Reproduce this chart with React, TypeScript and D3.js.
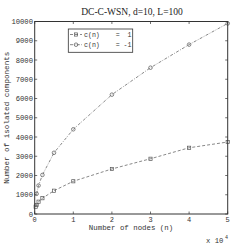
import React from "react";
import * as d3 from "d3";

const nodesLow = [0.025, 0.05, 0.1, 0.2, 0.5, 1, 2, 3, 4, 5];
const compLow = [380, 470, 640, 820, 1210, 1700, 2340, 2870, 3440, 3740];
const nodesHigh = [0.05, 0.1, 0.2, 0.5, 1, 2, 3, 4, 5];
const compHigh = [1050, 1480, 2030, 3180, 4400, 6200, 7600, 8800, 9900];
const xTicks = [0, 1, 2, 3, 4, 5];
const yTicks = [0, 1000, 2000, 3000, 4000, 5000, 6000, 7000, 8000, 9000, 10000];
const legendLabels = ["c(n)    =  1", "c(n)    = -1"];

export default function App() {
  const W = 251, H = 245;
  const L = 34.7, R = 227.7, T = 21.5, B = 214;
  const x = d3.scaleLinear().domain([0, 5]).range([L, R]);
  const y = d3.scaleLinear().domain([0, 10000]).range([B, T]);
  const low = nodesLow.map((n, i) => [n, compLow[i]] as [number, number]);
  const high = nodesHigh.map((n, i) => [n, compHigh[i]] as [number, number]);
  const line = d3.line<[number, number]>().x(d => x(d[0])).y(d => y(d[1]));
  const mono = "'Liberation Mono', 'DejaVu Sans Mono', monospace";
  const col = "#555";
  const axisCol = "#333";
  const tk = 2.5;
  return (
    <svg width={W} height={H} style={{ position: "absolute", left: 0, top: 0, background: "#fff" }}>
      <rect x={0} y={0} width={W} height={H} fill="#fff" />
      <text x={132} y={15} textAnchor="middle" fontFamily="'Liberation Serif', serif" fontSize={9.5} fill="#222">DC-C-WSN, d=10, L=100</text>
      {/* series */}
      <path d={line(low) || ""} fill="none" stroke={col} strokeWidth={0.7} strokeDasharray="3,2" />
      <path d={line(high) || ""} fill="none" stroke={col} strokeWidth={0.7} strokeDasharray="3,1.5,0.8,1.5" />
      {low.map((d, i) => (
        <rect key={"l" + i} x={x(d[0]) - 1.6} y={y(d[1]) - 1.6} width={3.2} height={3.2} fill="none" stroke={col} strokeWidth={0.7} />
      ))}
      {high.map((d, i) => (
        <circle key={"h" + i} cx={x(d[0])} cy={y(d[1])} r={1.8} fill="none" stroke={col} strokeWidth={0.7} />
      ))}
      {/* axes box */}
      <rect x={L} y={T} width={R - L} height={B - T} fill="none" stroke={axisCol} strokeWidth={1} />
      {xTicks.map(t => (
        <g key={"x" + t}>
          <line x1={x(t)} x2={x(t)} y1={B} y2={B - tk} stroke={axisCol} strokeWidth={0.7} />
          <line x1={x(t)} x2={x(t)} y1={T} y2={T + tk} stroke={axisCol} strokeWidth={0.7} />
          <text x={x(t)} y={222.3} textAnchor="middle" fontFamily={mono} fontSize={7} fill="#333">{t}</text>
        </g>
      ))}
      {yTicks.map(t => (
        <g key={"y" + t}>
          <line x1={L} x2={L + tk} y1={y(t)} y2={y(t)} stroke={axisCol} strokeWidth={0.7} />
          <line x1={R} x2={R - tk} y1={y(t)} y2={y(t)} stroke={axisCol} strokeWidth={0.7} />
          <text x={33} y={y(t) + 2.5} textAnchor="end" fontFamily={mono} fontSize={7.2} fill="#333">{t}</text>
        </g>
      ))}
      <text x={131} y={230.3} textAnchor="middle" fontFamily={mono} fontSize={7.4} fill="#333">Number of nodes (n)</text>
      <text x={206} y={243} fontFamily={mono} fontSize={7.2} fill="#333">x 10</text>
      <text x={225} y={238.5} fontFamily={mono} fontSize={5} fill="#333">4</text>
      <text transform={`translate(8.5,${(T + B) / 2}) rotate(-90)`} textAnchor="middle" fontFamily={mono} fontSize={7.6} fill="#333">Number of isolated components</text>
      {/* legend */}
      <rect x={68.3} y={29} width={64.4} height={23.3} fill="#fff" stroke={axisCol} strokeWidth={0.8} />
      <line x1={70} x2={82} y1={34.5} y2={34.5} stroke={col} strokeWidth={0.7} strokeDasharray="3,2" />
      <rect x={74.4} y={32.9} width={3.2} height={3.2} fill="none" stroke={col} strokeWidth={0.7} />
      <line x1={70} x2={82} y1={44.7} y2={44.7} stroke={col} strokeWidth={0.7} strokeDasharray="3,1.5,0.8,1.5" />
      <circle cx={76} cy={44.7} r={1.8} fill="none" stroke={col} strokeWidth={0.7} />
      {legendLabels.map((s, i) => (
        <text key={s} x={84} y={37 + i * 10.2} fontFamily={mono} fontSize={6.6} fill="#333" style={{ whiteSpace: "pre" }}>{s}</text>
      ))}
    </svg>
  );
}
